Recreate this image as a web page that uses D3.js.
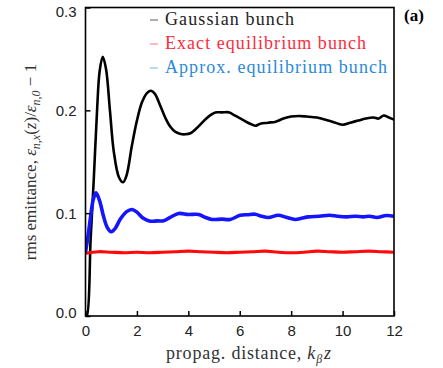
<!DOCTYPE html>
<html>
<head>
<meta charset="utf-8">
<script src="https://cdn.jsdelivr.net/npm/d3@7"></script>
<style>
  body { margin: 0; background: #fff; }
  svg { display: block; }
  .tick text { font-family: "Liberation Sans", Arial, sans-serif; font-size: 15px; fill: #222; }
</style>
</head>
<body>
<div id="chart"></div>
<script>
const width = 443;
const height = 368;
const margin = {top: 7.5, right: 49, bottom: 52, left: 85.5};
const serif = "'Liberation Serif', 'DejaVu Serif', serif";

// series
const gaussZ = [0, 0.05, 0.2, 0.32, 0.45, 0.55, 0.67, 0.8, 0.95, 1.1, 1.3, 1.46, 1.6, 1.8, 2.0, 2.2, 2.4, 2.55, 2.7, 2.9, 3.1, 3.3, 3.5, 3.7, 3.88, 4.1, 4.3, 4.5, 4.7, 4.9, 5.05, 5.3, 5.6, 5.8, 6.1, 6.4, 6.6, 6.8, 7.1, 7.4, 7.7, 8.0, 8.3, 8.6, 9.0, 9.3, 9.6, 10.0, 10.3, 10.6, 10.9, 11.2, 11.4, 11.6, 11.8, 12];
const gaussV = [0, 0.0, 0.075, 0.132, 0.2, 0.238, 0.252, 0.24, 0.2, 0.16, 0.135, 0.130, 0.137, 0.165, 0.19, 0.208, 0.217, 0.219, 0.216, 0.205, 0.193, 0.184, 0.179, 0.177, 0.1767, 0.178, 0.182, 0.187, 0.192, 0.196, 0.198, 0.198, 0.198, 0.195, 0.191, 0.187, 0.185, 0.187, 0.188, 0.189, 0.192, 0.194, 0.1945, 0.194, 0.193, 0.191, 0.189, 0.186, 0.188, 0.19, 0.192, 0.193, 0.192, 0.195, 0.193, 0.191];

const exactZ = [0, 0.5, 1, 1.5, 2, 2.5, 3, 3.5, 4, 4.5, 5, 5.5, 6, 6.5, 7, 7.5, 8, 8.5, 9, 9.5, 10, 10.5, 11, 11.5, 12];
const exactV = [0.061, 0.0625, 0.062, 0.0615, 0.062, 0.0615, 0.062, 0.0625, 0.063, 0.0625, 0.062, 0.0615, 0.062, 0.0625, 0.063, 0.062, 0.0615, 0.062, 0.063, 0.0625, 0.062, 0.0625, 0.063, 0.0625, 0.062];

const approxZ = [0, 0.1, 0.2, 0.3, 0.41, 0.55, 0.7, 0.85, 1.0, 1.15, 1.35, 1.6, 1.81, 2.0, 2.25, 2.52, 2.8, 3.04, 3.3, 3.62, 4.0, 4.4, 4.65, 4.92, 5.3, 5.63, 6.02, 6.3, 6.6, 6.85, 7.12, 7.5, 7.8, 8.16, 8.4, 8.67, 9.1, 9.5, 9.8, 10.16, 10.5, 10.8, 11.05, 11.33, 11.7, 12];
const approxV = [0.062, 0.078, 0.097, 0.113, 0.1197, 0.112, 0.097, 0.086, 0.0819, 0.085, 0.094, 0.1015, 0.1036, 0.101, 0.095, 0.0922, 0.0925, 0.0926, 0.096, 0.0997, 0.0987, 0.0987, 0.096, 0.0939, 0.0942, 0.0939, 0.098, 0.0985, 0.099, 0.097, 0.0958, 0.098, 0.096, 0.0939, 0.095, 0.0964, 0.097, 0.098, 0.097, 0.0964, 0.097, 0.0964, 0.097, 0.0958, 0.0977, 0.097];

const xTicks = [0, 2, 4, 6, 8, 10, 12];
const yTicks = [0.0, 0.1, 0.2, 0.3];
const legendNames = ['Gaussian bunch', 'Exact equilibrium bunch', 'Approx. equilibrium bunch'];

const series = [
  {z: gaussZ, v: gaussV, color: '#000', w: 2.6},
  {z: exactZ, v: exactV, color: '#ff0a0a', w: 3.2},
  {z: approxZ, v: approxV, color: '#1414ff', w: 3.6}
];
const legendColors = ['#222', '#ff2a3c', '#2b8ad6'];
const dashColors = ['#777', '#ff8a94', '#8cc2ea'];

const iw = width - margin.left - margin.right;
const ih = height - margin.top - margin.bottom;

const svg = d3.select('#chart')
  .append('svg')
  .attr('width', width)
  .attr('height', height);

const g = svg.append('g')
  .attr('transform', `translate(${margin.left}, ${margin.top})`);

const x = d3.scaleLinear().domain([0, 12]).range([0, iw]);
const y = d3.scaleLinear().domain([0, 0.3]).range([ih, 0]);

g.append('defs').append('clipPath').attr('id', 'clip')
  .append('rect').attr('width', iw).attr('height', ih);

const line = d3.line()
  .x(d => x(d[0]))
  .y(d => y(d[1]))
  .curve(d3.curveCatmullRom.alpha(0.5));

series.forEach(s => {
  g.append('path')
    .datum(s.z.map((z, k) => [z, s.v[k]]))
    .attr('clip-path', 'url(#clip)')
    .attr('fill', 'none')
    .attr('stroke', s.color)
    .attr('stroke-width', s.w)
    .attr('stroke-linejoin', 'round')
    .attr('d', line);
});

const xAxis = g.append('g')
  .attr('transform', `translate(0, ${ih})`)
  .call(d3.axisBottom(x).tickValues(xTicks).tickFormat(d3.format('d'))
    .tickSizeInner(-5).tickSizeOuter(0).tickPadding(9));
xAxis.select('.domain').remove();
xAxis.selectAll('line').attr('stroke', '#000').attr('stroke-width', 1.5);

const yAxis = g.append('g')
  .call(d3.axisLeft(y).tickValues(yTicks).tickFormat(d3.format('.1f'))
    .tickSizeInner(-5).tickSizeOuter(0).tickPadding(9));
yAxis.select('.domain').remove();
yAxis.selectAll('line').attr('stroke', '#000').attr('stroke-width', 1.5);
// end labels sit slightly inside the frame in the original
yAxis.selectAll('text').attr('dy', d => d === 0.3 ? '0.58em' : d === 0 ? '0.1em' : '0.36em');

// frame
g.append('rect')
  .attr('width', iw).attr('height', ih)
  .attr('fill', 'none').attr('stroke', '#000').attr('stroke-width', 1.6);

// legend
const legendW = [129, 201, 222];
legendNames.forEach((name, i) => {
  const ly = 25 + i * 24;
  svg.append('line')
    .attr('x1', 150).attr('x2', 158).attr('y1', ly - 5).attr('y2', ly - 5)
    .attr('stroke', dashColors[i]).attr('stroke-width', 1.2);
  svg.append('text')
    .attr('font-family', serif)
    .attr('x', 165).attr('y', ly)
    .attr('font-size', 18)
    .attr('fill', legendColors[i])
    .attr('textLength', legendW[i])
    .attr('lengthAdjust', 'spacing')
    .text(name);
});

// panel tag
svg.append('text')
  .attr('font-family', serif)
  .attr('x', 404).attr('y', 21)
  .attr('font-size', 17).attr('font-weight', 'bold')
  .text('(a)');

// x label
const xl = svg.append('text')
  .attr('font-family', serif)
  .attr('x', 166).attr('y', 359)
  .attr('font-size', 18)
  .attr('letter-spacing', 0.8)
  .attr('fill', '#333');
xl.append('tspan').text('propag. distance, ');
xl.append('tspan').attr('font-style', 'italic').text('k');
xl.append('tspan').attr('font-style', 'italic').attr('font-size', 12).attr('dy', 4).text('β');
xl.append('tspan').attr('font-style', 'italic').attr('dy', -4).attr('dx', 1).text('z');

// y label
const yl = svg.append('text')
  .attr('font-family', serif)
  .attr('transform', 'translate(36, 162) rotate(-90)')
  .attr('text-anchor', 'middle')
  .attr('font-size', 17)
  .attr('fill', '#333');
yl.append('tspan').text('rms emittance, ');
yl.append('tspan').attr('font-style', 'italic').text('ε');
yl.append('tspan').attr('font-style', 'italic').attr('font-size', 12).attr('dy', 4).text('n,x');
yl.append('tspan').attr('dy', -4).text('(');
yl.append('tspan').attr('font-style', 'italic').text('z');
yl.append('tspan').text(')/');
yl.append('tspan').attr('font-style', 'italic').text('ε');
yl.append('tspan').attr('font-style', 'italic').attr('font-size', 12).attr('dy', 4).text('n,0');
yl.append('tspan').attr('dy', -4).text(' − 1');
</script>
</body>
</html>
